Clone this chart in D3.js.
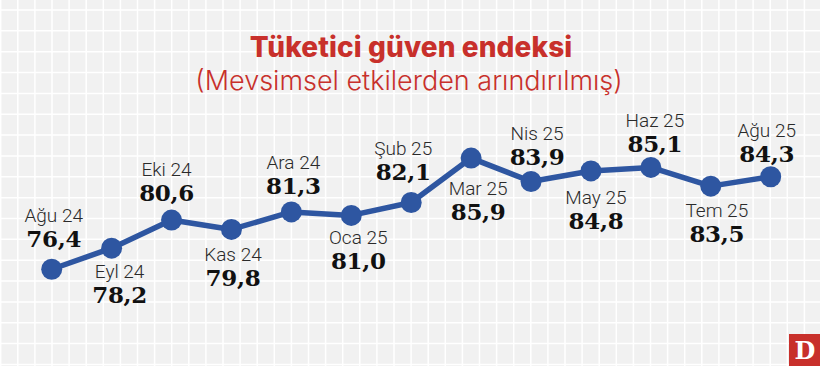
<!DOCTYPE html>
<html><head><meta charset="utf-8">
<script src="https://cdn.jsdelivr.net/npm/d3@7"></script>
<style>
html,body{margin:0;padding:0;background:#f1f1f1;}
svg{display:block;}
</style></head>
<body>
<svg id="chart" width="820" height="366"></svg>
<script>
const months = ["Ağu 24","Eyl 24","Eki 24","Kas 24","Ara 24","Oca 25","Şub 25","Mar 25","Nis 25","May 25","Haz 25","Tem 25","Ağu 25"];
const values = [76.4,78.2,80.6,79.8,81.3,81.0,82.1,85.9,83.9,84.8,85.1,83.5,84.3];
const labelSide = ["above","below","above","below","above","below","above","below","above","below","above","below","above"];
const labelNudge = [[2,-4],[8,-1],[-5,-1.5],[1.5,1],[2,0],[7,-1.5],[-8,-5],[7,6],[6,2],[5,3],[4,2.5],[6,0],[-4,3]];
const titleText = "Tüketici güven endeksi";
const subtitleText = "(Mevsimsel etkilerden arındırılmış)";

const W = 820, H = 366;
const svg = d3.select("#chart");

// background grid
const bg = svg.append("g");
bg.append("rect").attr("width", W).attr("height", H).attr("fill", "#f1f1f1");
const gx = d3.range(0.7, W, 17.1), gy = d3.range(10, H, 20.85);
bg.selectAll("line.v").data(gx).join("line").attr("class","v")
  .attr("x1", d => d).attr("x2", d => d).attr("y1", 0).attr("y2", H)
  .attr("stroke", "#fff").attr("stroke-width", 1.5);
bg.selectAll("line.h").data(gy).join("line").attr("class","h")
  .attr("y1", d => d).attr("y2", d => d).attr("x1", 0).attr("x2", W)
  .attr("stroke", "#fff").attr("stroke-width", 1.5);

// title
svg.append("text").attr("x", 411).attr("y", 56.5).attr("text-anchor", "middle")
  .attr("font-family", "Inter").attr("font-weight", 800).attr("font-size", 28)
  .attr("fill", "#c8302b").attr("letter-spacing", 0.1).text(titleText);
svg.append("text").attr("x", 409).attr("y", 90).attr("text-anchor", "middle")
  .attr("font-family", "Inter").attr("font-weight", 300).attr("font-size", 27)
  .attr("fill", "#c8302b").attr("letter-spacing", 0).text(subtitleText);

// scales
const x = d3.scalePoint().domain(months).range([51.7, 770.7]);
const y = d3.scaleLinear().domain([76, 86]).range([273.9, 156.9]);

const line = d3.line().x((d, i) => x(months[i])).y(d => y(d));
svg.append("path").datum(values).attr("d", line)
  .attr("fill", "none").attr("stroke", "#2e56a1").attr("stroke-width", 5.5)
  .attr("stroke-linejoin", "round");
svg.selectAll("circle.pt").data(values).join("circle").attr("class", "pt")
  .attr("cx", (d, i) => x(months[i])).attr("cy", d => y(d)).attr("r", 10.5)
  .attr("fill", "#2e56a1");

// labels
const fmt = v => v.toFixed(1).replace(".", ",");
const lg = svg.append("g").selectAll("g").data(values).join("g")
  .attr("transform", (d, i) => `translate(${x(months[i]) + labelNudge[i][0]},${y(d) + labelNudge[i][1]})`);
lg.append("text").attr("text-anchor", "middle")
  .attr("y", (d, i) => labelSide[i] === "above" ? -43 : 30.5)
  .attr("font-family", "Roboto").attr("font-weight", 300).attr("font-size", 19)
  .attr("fill", "#2a2a2a")
  .text((d, i) => months[i]);
lg.append("text").attr("text-anchor", "middle")
  .attr("y", (d, i) => labelSide[i] === "above" ? -18 : 55.5)
  .attr("font-family", "DejaVu Serif").attr("font-weight", 700).attr("font-size", 23)
  .attr("fill", "#111").attr("letter-spacing", -0.3)
  .text(d => fmt(d));

// logo
const logo = svg.append("g").attr("transform", "translate(789,334)");
logo.append("rect").attr("width", 31).attr("height", 32).attr("fill", "#c8302b");
logo.append("text").attr("x", 16).attr("y", 25).attr("text-anchor", "middle")
  .attr("font-family", "DejaVu Serif").attr("font-weight", 700).attr("font-size", 24)
  .attr("fill", "#fff").text("D");
</script>
</body></html>
